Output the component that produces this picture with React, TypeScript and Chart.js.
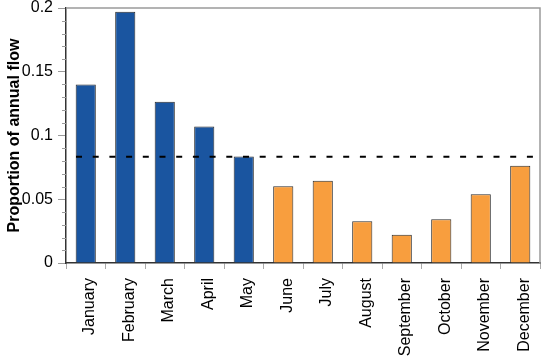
import React, { useEffect, useRef } from "react";
import { Chart, registerables } from "chart.js";

Chart.register(...registerables);

const months = [
  "January", "February", "March", "April", "May", "June",
  "July", "August", "September", "October", "November", "December",
];
const proportions = [
  0.140, 0.197, 0.1265, 0.107, 0.0835, 0.0601,
  0.0646, 0.0327, 0.0222, 0.0343, 0.0539, 0.0763,
];
const seasons = [
  "high", "high", "high", "high", "high", "low",
  "low", "low", "low", "low", "low", "low",
];
const meanProportion = 0.0833;
const yMin = 0;
const yMax = 0.2;
const yMajorStep = 0.05;
const yMinorStep = 0.01;

const FONT = "'Liberation Sans', Arial, Helvetica, sans-serif";
const seasonColor: Record<string, string> = { high: "#1a55a0", low: "#f89e3e" };

const decorPlugin = {
  id: "decor",
  afterDraw(chart: any) {
    const { ctx, chartArea } = chart;
    const y = chart.scales.y;
    ctx.save();
    ctx.strokeStyle = "#9a9a9a";
    ctx.lineWidth = 1.5;
    ctx.beginPath();
    ctx.moveTo(chartArea.left, chartArea.top);
    ctx.lineTo(chartArea.right, chartArea.top);
    ctx.lineTo(chartArea.right, chartArea.bottom);
    ctx.stroke();
    ctx.strokeStyle = "#9a9a9a";
    ctx.lineWidth = 1;
    const n = Math.round((yMax - yMin) / yMinorStep);
    for (let i = 0; i <= n; i++) {
      const v = yMin + i * yMinorStep;
      if (Math.abs(v / yMajorStep - Math.round(v / yMajorStep)) < 1e-6) continue;
      const py = Math.round(y.getPixelForValue(v)) + 0.5;
      ctx.beginPath();
      ctx.moveTo(chartArea.left - 4, py);
      ctx.lineTo(chartArea.left, py);
      ctx.stroke();
    }
    const my = y.getPixelForValue(meanProportion);
    ctx.strokeStyle = "#000";
    ctx.lineWidth = 2;
    ctx.setLineDash([6, 10.7]);
    ctx.beginPath();
    ctx.moveTo(chartArea.left + 10, my);
    ctx.lineTo(chartArea.right - 2, my);
    ctx.stroke();
    ctx.restore();
  },
};

export default function App() {
  const ref = useRef<HTMLCanvasElement>(null);
  useEffect(() => {
    if (!ref.current) return;
    const chart = new Chart(ref.current, {
      type: "bar",
      data: {
        labels: months,
        datasets: [
          {
            data: proportions,
            backgroundColor: seasons.map((s) => seasonColor[s]),
            borderColor: "#2b2b2b",
            borderWidth: 1,
            categoryPercentage: 1,
            barPercentage: 0.51,
          },
        ],
      },
      options: {
        responsive: false,
        animation: false,
        devicePixelRatio: 1,
        layout: { padding: { top: 8, right: 2, left: 0, bottom: 0 } },
        plugins: { legend: { display: false }, tooltip: { enabled: false } },
        scales: {
          x: {
            grid: {
              offset: true,
              drawOnChartArea: false,
              tickLength: 6,
              tickColor: "#aaaaaa",
            },
            border: { color: "#333", width: 1.5 },
            ticks: {
              minRotation: 90,
              maxRotation: 90,
              color: "#000",
              padding: 9,
              labelOffset: 4,
              font: { family: FONT, size: 16 },
            },
            afterFit(scale: any) {
              scale.height = 99;
              scale.paddingLeft = 0;
              scale.paddingRight = 0;
            },
          },
          y: {
            min: yMin,
            max: yMax,
            ticks: {
              stepSize: yMajorStep,
              color: "#000",
              padding: 5,
              font: { family: FONT, size: 16 },
              callback: (v: any) => String(Math.round(Number(v) * 100) / 100),
            },
            grid: {
              drawOnChartArea: false,
              tickLength: 8,
              tickColor: "#9a9a9a",
            },
            border: { color: "#333", width: 1.5 },
            title: {
              display: true,
              text: "Proportion of annual flow",
              color: "#000",
              font: { family: FONT, size: 16, weight: "bold" },
              padding: { top: 5, bottom: 0 },
            },
            afterFit(scale: any) {
              scale.width = 66;
              scale.paddingTop = 0;
              scale.paddingBottom = 0;
            },
          },
        },
      },
      plugins: [decorPlugin],
    });
    return () => chart.destroy();
  }, []);
  return (
    <div style={{ position: "fixed", left: 0, top: 0, width: 542, height: 362, background: "#fff" }}>
      <canvas ref={ref} width={542} height={362} style={{ display: "block" }} />
    </div>
  );
}
